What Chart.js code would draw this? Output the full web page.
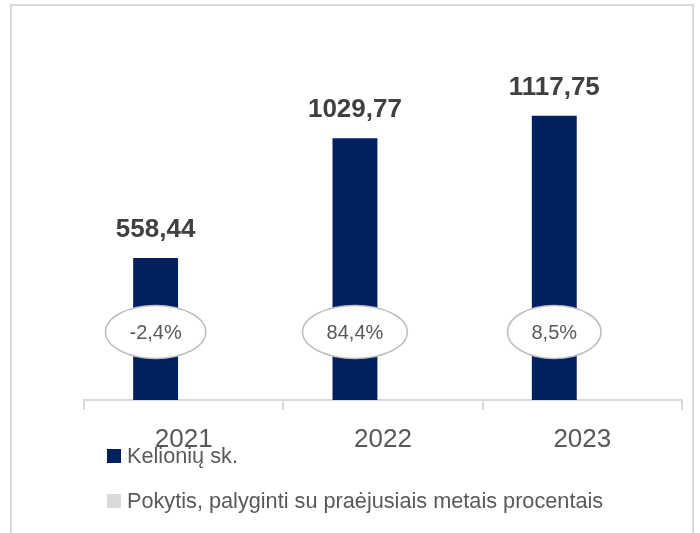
<!DOCTYPE html>
<html>
<head>
<meta charset="utf-8">
<script src="https://cdn.jsdelivr.net/npm/chart.js@4/dist/chart.umd.min.js"></script>
<style>
html,body{margin:0;padding:0;background:#fff;}
#wrap{width:700px;height:533px;position:relative;}
</style>
</head>
<body>
<div id="wrap"><canvas id="c" width="700" height="533"></canvas></div>
<script>
const categories = ['2021', '2022', '2023'];
const tripsLabel = 'Kelionių sk.';
const tripsValues = [558.44, 1029.77, 1117.75];
const changeLabel = 'Pokytis, palyginti su praėjusiais metais procentais';
const changeValues = [-2.4, 84.4, 8.5];

const NAVY = '#002060';
const LIGHT = '#d9d9d9';
const TEXT = '#595959';
const FONT = '"Liberation Sans", Arial, sans-serif';

function fmt(v, d) { return v.toFixed(d).replace('.', ','); }

const decor = {
  id: 'decor',
  beforeDraw(chart) {
    const ctx = chart.ctx;
    ctx.save();
    ctx.fillStyle = '#fff';
    ctx.fillRect(0, 0, chart.width, chart.height);
    ctx.strokeStyle = LIGHT;
    ctx.lineWidth = 2;
    ctx.strokeRect(11, 5, 682, 560);
    ctx.restore();
  },
  afterDatasetsDraw(chart) {
    const ctx = chart.ctx;
    const meta = chart.getDatasetMeta(0);
    const area = chart.chartArea;
    ctx.save();
    // value labels
    ctx.font = 'bold 26px ' + FONT;
    ctx.fillStyle = '#404040';
    ctx.textAlign = 'center';
    ctx.textBaseline = 'middle';
    meta.data.forEach((bar, i) => {
      ctx.fillText(fmt(tripsValues[i], 2), bar.x, bar.y - 28);
    });
    // change ellipses
    ctx.font = '20px ' + FONT;
    const cy = area.bottom - 68;
    meta.data.forEach((bar, i) => {
      const t = fmt(changeValues[i], 1) + '%';
      const w = ctx.measureText(t).width + 48;
      ctx.beginPath();
      ctx.ellipse(bar.x, cy, w / 2, 26.5, 0, 0, Math.PI * 2);
      ctx.fillStyle = '#fff';
      ctx.fill();
      ctx.lineWidth = 1.5;
      ctx.strokeStyle = '#bfbfbf';
      ctx.stroke();
      ctx.fillStyle = TEXT;
      ctx.fillText(t, bar.x, cy + 1);
    });
    ctx.restore();
  },
  afterDraw(chart) {
    const ctx = chart.ctx;
    ctx.save();
    ctx.font = '21.7px ' + FONT;
    ctx.textAlign = 'left';
    ctx.textBaseline = 'middle';
    const items = [
      { label: chart.data.datasets[0].label, color: NAVY, y: 456 },
      { label: chart.data.datasets[1].label, color: LIGHT, y: 501 }
    ];
    items.forEach(it => {
      ctx.fillStyle = it.color;
      ctx.fillRect(107, it.y - 7, 14, 14);
      ctx.fillStyle = TEXT;
      ctx.fillText(it.label, 127, it.y + 1);
    });
    ctx.restore();
  }
};

new Chart(document.getElementById('c'), {
  type: 'bar',
  data: {
    labels: categories,
    datasets: [
      { label: tripsLabel, data: tripsValues, backgroundColor: NAVY, yAxisID: 'y',
        categoryPercentage: 0.563, barPercentage: 0.80 },
      { label: changeLabel, data: changeValues, backgroundColor: 'rgba(0,0,0,0)', yAxisID: 'y2',
        categoryPercentage: 0.563, barPercentage: 0.80 }
    ]
  },
  options: {
    responsive: false,
    animation: false,
    layout: { padding: { left: 84, right: 18, top: 44, bottom: 0 } },
    plugins: { legend: { display: false }, tooltip: { enabled: false } },
    scales: {
      x: {
        offset: true,
        grid: { display: true, offset: true, drawOnChartArea: false, drawTicks: true,
                tickLength: 10, color: LIGHT, lineWidth: 2 },
        border: { display: true, color: LIGHT, width: 2 },
        ticks: { font: { family: FONT, size: 26 }, color: TEXT, padding: 14 },
        afterFit(scale) { scale.height = 133; }
      },
      y: { display: false, min: 0, max: 1400 },
      y2: { display: false, min: 0, max: 100000 }
    }
  },
  plugins: [decor]
});
</script>
</body>
</html>
